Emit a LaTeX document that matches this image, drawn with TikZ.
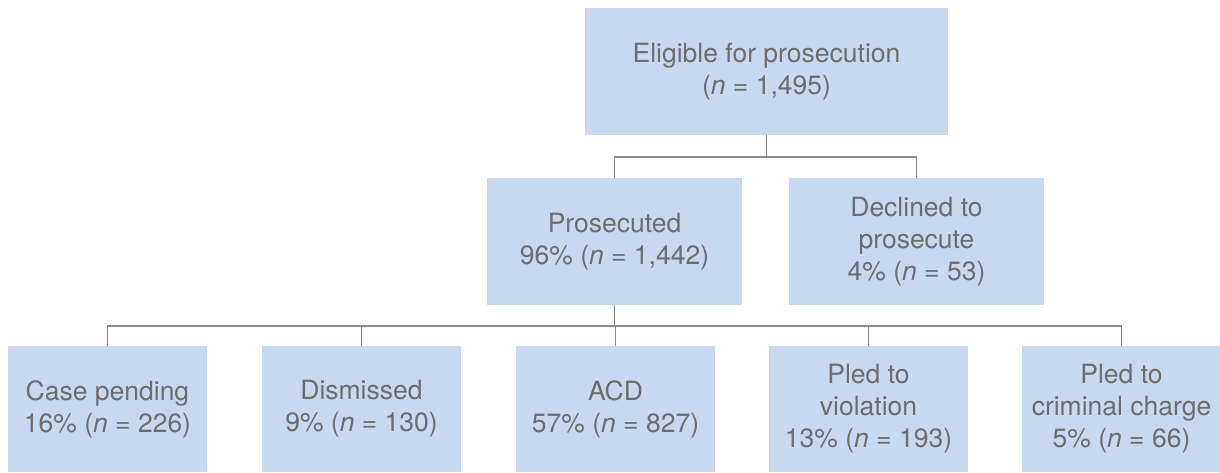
\documentclass[tikz,border=0pt]{standalone}
\usepackage{fontspec}
\setmainfont{TeX Gyre Heros}
\definecolor{boxblue}{HTML}{C8D8EE}
\definecolor{textgray}{HTML}{6D6D6F}
\definecolor{linegray}{HTML}{8C8C8E}
\tikzset{
	stagebox/.style={fill=boxblue, draw=none, text=textgray, align=center,
		inner sep=0pt, minimum height=127pt,
		font=\fontsize{26.5}{32}\selectfont},
	wide/.style={stagebox, minimum width=363pt},
	mid/.style={stagebox, minimum width=255pt},
	low/.style={stagebox, minimum width=199pt, minimum height=126pt},
	branch/.style={draw=linegray, line width=1.4pt}
}
\begin{document}
\begin{tikzpicture}[x=1pt,y=-1pt]
		\useasboundingbox (0,0) rectangle (1220,472);
		% top level
		\node[wide] (elig) at (766.5, 71.5) {Eligible for prosecution\\(\textit{n} = 1,495)};
		\node[mid] (pros) at (614.5,241.5) {Prosecuted\\96\% (\textit{n} = 1,442)};
		\node[mid] (decl) at (916.5,241.5) {Declined to\\prosecute\\4\% (\textit{n} = 53)};
		% outcomes
		\node[low] (pend) at ( 107.5,409) {Case pending\\16\% (\textit{n} = 226)};
		\node[low] (dism) at ( 361.5,409) {Dismissed\\9\% (\textit{n} = 130)};
		\node[low] (acd)  at ( 615.5,409) {ACD\\57\% (\textit{n} = 827)};
		\node[low] (viol) at ( 868.5,409) {Pled to\\violation\\13\% (\textit{n} = 193)};
		\node[low] (crim) at (1121.5,409) {Pled to\\criminal charge\\5\% (\textit{n} = 66)};
		% connectors
		\coordinate (j1) at (766.5,157);
		\coordinate (j2) at (614.5,326);
		\draw[branch] (elig.south) -- (j1);
		\draw[branch] (pros.north) |- (j1) -| (decl.north);
		\draw[branch] (pros.south) -- (j2);
		\foreach \b in {pend,dism,acd,viol,crim}
			\draw[branch] (\b.north) |- (j2);
	\end{tikzpicture}
\end{document}
